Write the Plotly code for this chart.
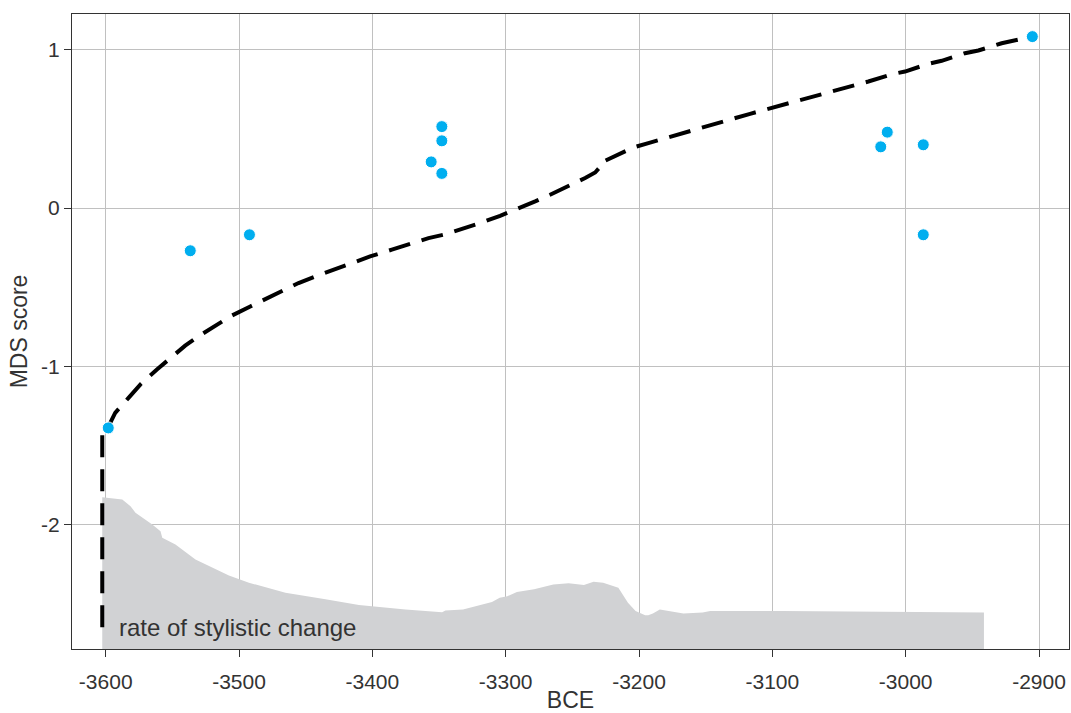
import plotly.graph_objects as go

# Observed sites (BCE, MDS score)
site_x = [-3598.1, -3536.6, -3492.2, -3347.9, -3347.9, -3355.9, -3347.9,
          -2905.0, -3013.8, -3018.7, -2986.8, -2986.8]
site_y = [-1.390, -0.270, -0.169, 0.515, 0.425, 0.292, 0.219,
          1.084, 0.480, 0.387, 0.400, -0.169]

# Model curve (dashed)
curve_x = [-3602.6, -3602.6, -3597.9, -3592.9, -3582.9, -3574.1, -3561.6, -3552.9,
           -3540.4, -3530.4, -3516.6, -3506.6, -3491.6, -3480.4, -3465.4, -3455.4,
           -3439.2, -3429.2, -3412.9, -3401.7, -3385.4, -3374.1, -3357.9, -3346.7,
           -3330.4, -3319.2, -3304.2, -3292.9, -3277.9, -3266.7, -3251.7, -3240.4,
           -3232.9, -3229.9, -3229.2, -3219.2, -3204.2, -3193.0, -3175.4, -3165.5,
           -3154.2, -3116.7, -3079.2, -3041.7, -3028.0, -3010.5, -3000.5, -2983.0,
           -2973.0, -2955.5, -2945.5, -2928.0, -2918.0, -2905.0]
curve_y = [-2.65, -1.390, -1.380, -1.295, -1.200, -1.116, -1.021, -0.958,
           -0.870, -0.811, -0.737, -0.685, -0.622, -0.575, -0.516, -0.474,
           -0.421, -0.390, -0.337, -0.306, -0.263, -0.232, -0.190, -0.169,
           -0.126, -0.095, -0.049, -0.011, 0.042, 0.084, 0.141, 0.190,
           0.225, 0.253, 0.284, 0.322, 0.383, 0.411, 0.452, 0.474,
           0.505, 0.596, 0.681, 0.768, 0.800, 0.846, 0.863, 0.912,
           0.931, 0.979, 0.996, 1.042, 1.059, 1.084]

# Rate of stylistic change (upper edge of grey area)
rate_x = [-3602.6, -3587.6, -3581.4, -3577.7, -3565.1, -3558.9, -3557.6, -3547.7,
          -3532.7, -3507.6, -3492.6, -3465.2, -3435.2, -3410.1, -3375.2, -3347.7,
          -3345.2, -3332.0, -3310.3, -3304.5, -3298.8, -3291.6, -3278.7, -3272.9,
          -3264.3, -3252.8, -3241.3, -3234.1, -3226.9, -3215.5, -3208.3, -3202.6,
          -3195.4, -3193.1, -3189.6, -3184.4, -3178.1, -3166.7, -3152.3, -3146.6,
          -3092.0, -2941.3]
rate_y = [-1.828, -1.843, -1.885, -1.927, -2.001, -2.043, -2.085, -2.127,
          -2.222, -2.323, -2.369, -2.432, -2.474, -2.510, -2.538, -2.555,
          -2.544, -2.538, -2.491, -2.464, -2.454, -2.428, -2.411, -2.397,
          -2.380, -2.373, -2.384, -2.363, -2.369, -2.400, -2.495, -2.548,
          -2.575, -2.575, -2.563, -2.538, -2.548, -2.563, -2.558, -2.548,
          -2.548, -2.558]
rate_base = -3.0

x_ticks = [-3600, -3500, -3400, -3300, -3200, -3100, -3000, -2900]
y_ticks = [-2, -1, 0, 1]

FONT = "Liberation Sans"
TXT = "#333333"

fig = go.Figure()

fig.add_trace(go.Scatter(
    x=rate_x + [rate_x[-1], rate_x[0]],
    y=rate_y + [rate_base, rate_base],
    mode="lines", fill="toself", fillcolor="#d1d2d4",
    line=dict(width=0, color="#d1d2d4"), hoverinfo="skip", showlegend=False))

fig.add_trace(go.Scatter(
    x=curve_x, y=curve_y, mode="lines",
    line=dict(color="black", width=4, dash="22px,12px"),
    showlegend=False))

fig.add_trace(go.Scatter(
    x=site_x, y=site_y, mode="markers",
    marker=dict(color="#00aeef", size=12, line=dict(color="white", width=1)),
    showlegend=False))

fig.add_annotation(x=-3591.4, y=-2.651, xref="x", yref="y", text="rate of stylistic change",
                   showarrow=False, xanchor="left", yanchor="middle",
                   font=dict(family=FONT, size=24, color=TXT))

axis_common = dict(showgrid=True, gridcolor="#c0c0c0", gridwidth=1,
                   showline=True, linecolor="#333333", linewidth=1.3, mirror=True,
                   ticks="outside", ticklen=7, tickcolor="#333333", tickwidth=1,
                   zeroline=False, automargin=False,
                   tickfont=dict(family=FONT, size=21, color=TXT))

fig.update_xaxes(range=[-3625.3, -2877.5], tickvals=x_ticks,
                 ticktext=[str(v) for v in x_ticks], ticklabelstandoff=7,
                 title=dict(text="BCE", font=dict(family=FONT, size=23, color=TXT), standoff=9),
                 **axis_common)
fig.update_yaxes(range=[-2.788, 1.227], tickvals=y_ticks,
                 ticktext=[str(v) for v in y_ticks],
                 title=dict(text="MDS score", font=dict(family=FONT, size=23, color=TXT), standoff=6),
                 **axis_common)

fig.update_layout(width=1071, height=713, margin=dict(l=72, r=2, t=14, b=64),
                  plot_bgcolor="white", paper_bgcolor="white",
                  font=dict(family=FONT, size=22, color=TXT), showlegend=False)

fig.write_html("out.html", config={"displayModeBar": False},
               post_script="document.body.style.margin='0';document.body.style.overflow='hidden';")
